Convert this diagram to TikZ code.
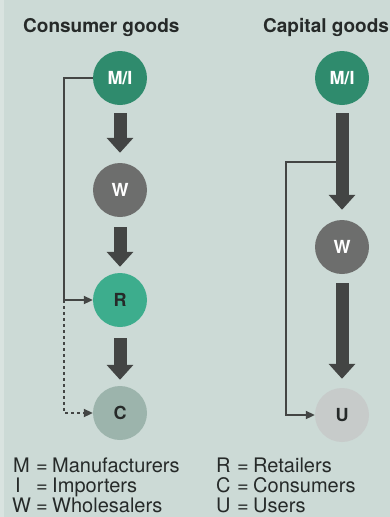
\documentclass[tikz,border=0pt]{standalone}
\usepackage{fontspec}
\setmainfont{TeX Gyre Heros}
\usetikzlibrary{arrows.meta}

\definecolor{paper}{HTML}{CCDAD6}
\definecolor{paperedge}{HTML}{D9E3E0}
\definecolor{mfgreen}{HTML}{2F8B6D}
\definecolor{retgreen}{HTML}{3DAD8D}
\definecolor{wsgray}{HTML}{6D6E6D}
\definecolor{congray}{HTML}{9CB4AC}
\definecolor{usegray}{HTML}{C7CBCA}
\definecolor{ink}{HTML}{262A29}
\definecolor{flow}{HTML}{434544}

\tikzset{
  stage/.style={circle, minimum size=54pt, inner sep=0pt,
                font=\fontsize{18}{18}\bfseries\selectfont},
  bigflow/.style={draw=flow, line width=13pt,
                  -{Triangle[length=15pt,width=26pt]}},
  link/.style={draw=flow, line width=2pt,
               -{Triangle[length=9pt,width=8pt]}},
  dotlink/.style={link, dash pattern=on 3pt off 3pt},
  heading/.style={anchor=base west, inner sep=0pt, text=ink,
                  font=\fontsize{19}{19}\bfseries\selectfont},
  legend/.style={anchor=base west, inner sep=0pt, text=ink,
                 font=\fontsize{20}{20}\selectfont}
}

\begin{document}
\begin{tikzpicture}[x=1pt, y=-1pt]
  % page
  \fill[paper] (0,0) rectangle (390,517);
  \fill[paperedge] (0,0) rectangle (4,517);
  \useasboundingbox (0,0) rectangle (390,517);

  % headings
  \node[heading] (hcons) at (23,32) {Consumer goods};
  \node[heading] (hcap) at (263,32) {Capital goods};

  % consumer goods chain
  \node[stage, fill=mfgreen, text=white] (mi1) at (120,78) {M/I};
  \node[stage, fill=wsgray, text=white] (w1) at (120,190) {W};
  \node[stage, fill=retgreen, text=ink] (r1) at (120,300) {R};
  \node[stage, fill=congray, text=ink] (c1) at (120,413) {C};

  \draw[bigflow, shorten <=8pt, shorten >=10pt] (mi1) -- (w1);
  \draw[bigflow, shorten <=10pt, shorten >=6pt] (w1) -- (r1);
  \draw[bigflow, shorten <=11pt, shorten >=6pt] (r1) -- (c1);

  % direct supply to retailers, occasional to consumers
  \coordinate (lturn) at (64,300);
  \coordinate (lend) at (64,413);
  \draw[link] (mi1.west) -| (lturn) -- (r1.west);
  \draw[dotlink] (lturn) -- (lend) -- (c1.west);

  % capital goods chain
  \node[stage, fill=mfgreen, text=white] (mi2) at (342,78) {M/I};
  \node[stage, fill=wsgray, text=white] (w2) at (342,247) {W};
  \node[stage, fill=usegray, text=ink] (u2) at (342,415) {U};

  \draw[bigflow, shorten <=8pt, shorten >=10pt] (mi2) -- (w2);
  \draw[bigflow, shorten <=9pt, shorten >=9pt] (w2) -- (u2);

  % direct supply to users
  \coordinate (rsplit) at (336,162);
  \coordinate (rturn) at (286,162);
  \draw[link] (rsplit) -- (rturn) |- (u2.west);

  % legend
  \node[legend] (lm) at (13,472) {M};
  \node[legend] (lme) at (36,472) {=};
  \node[legend] (lmt) at (52,472) {Manufacturers};
  \node[legend] (li) at (15,492) {I};
  \node[legend] (lie) at (36,492) {=};
  \node[legend] (lit) at (52,492) {Importers};
  \node[legend] (lw) at (12,512) {W};
  \node[legend] (lwe) at (36,512) {=};
  \node[legend] (lwt) at (52,512) {Wholesalers};

  \node[legend] (lr) at (216,472) {R};
  \node[legend] (lre) at (237,472) {=};
  \node[legend] (lrt) at (253,472) {Retailers};
  \node[legend] (lc) at (216,492) {C};
  \node[legend] (lce) at (237,492) {=};
  \node[legend] (lct) at (253,492) {Consumers};
  \node[legend] (lu) at (216,512) {U};
  \node[legend] (lue) at (237,512) {=};
  \node[legend] (lut) at (253,512) {Users};
\end{tikzpicture}
\end{document}
